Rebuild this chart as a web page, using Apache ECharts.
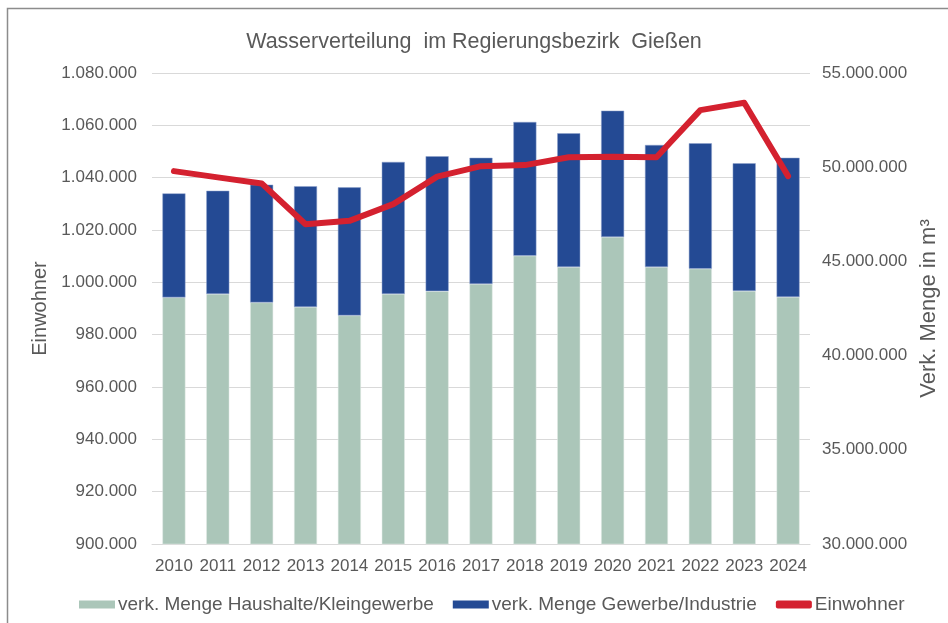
<!DOCTYPE html>
<html>
<head>
<meta charset="utf-8">
<script src="https://cdn.jsdelivr.net/npm/echarts@6/dist/echarts.min.js"></script>
<style>
  html, body { margin: 0; padding: 0; background: #fff; }
  #chart { width: 948px; height: 623px; }
</style>
</head>
<body>
<div id="chart"></div>
<script>
// Daten
const jahre = ['2010', '2011', '2012', '2013', '2014', '2015', '2016', '2017',
  '2018', '2019', '2020', '2021', '2022', '2023', '2024']
const haushalte = [43090000, 43270000, 42820000, 42580000, 42130000, 43270000, 43420000, 43800000,
  45300000, 44700000, 46290000, 44700000, 44610000, 43430000, 43110000]
const gewerbe = [5520000, 5480000, 6250000, 6410000, 6800000, 7010000, 7160000, 6700000,
  7100000, 7100000, 6710000, 6480000, 6660000, 6780000, 7390000]
const einwohner = [1042500, 1040100, 1037800, 1022200, 1023500, 1029900, 1040400, 1044400,
  1044800, 1047800, 1048000, 1047800, 1065800, 1068600, 1040600]

const textColor = '#595959'
const fontFamily = '"Liberation Sans", Arial, sans-serif'

//Tausenderpunkte
function fmt(v) {
  return String(v).replace(/\B(?=(\d{3})+(?!\d))/g, '.')
}

const chart = echarts.init(document.getElementById('chart'))

chart.setOption({
  animation: false,
  textStyle: { fontFamily: fontFamily, color: textColor },
  title: {
    text: 'Wasserverteilung  im Regierungsbezirk  Gießen',
    left: 'center',
    top: 26,
    textStyle: { fontSize: 21.5, fontWeight: 'normal', color: textColor, fontFamily: fontFamily }
  },
  graphic: [{
    type: 'rect',
    shape: { x: 7.5, y: 8.5, width: 960, height: 640 },
    style: { fill: 'none', stroke: '#8c8c8c', lineWidth: 1.5 },
    silent: true
  }],
  grid: { left: 152, right: 137, top: 73, bottom: 79 },
  legend: {
    bottom: 4,
    left: 74,
    itemWidth: 36,
    itemHeight: 8,
    itemGap: 19,
    itemStyle: { borderWidth: 0 },
    textStyle: { fontSize: 19, color: textColor, fontFamily: fontFamily, padding: [0, 0, 0, -2] },
    data: [
      { name: 'verk. Menge Haushalte/Kleingewerbe', icon: 'rect' },
      { name: 'verk. Menge Gewerbe/Industrie', icon: 'rect' },
      { name: 'Einwohner', icon: 'roundRect' }
    ]
  },
  xAxis: {
    type: 'category',
    data: jahre,
    axisLine: { lineStyle: { color: '#d9d9d9', width: 1 } },
    axisTick: { show: false },
    axisLabel: { fontSize: 17, color: textColor, margin: 14, interval: 0 }
  },
  yAxis: [{
    type: 'value',
    name: 'Einwohner',
    nameLocation: 'middle',
    nameGap: 100,
    nameTextStyle: { fontSize: 20, color: textColor },
    min: 900000,
    max: 1080000,
    interval: 20000,
    axisLine: { show: false },
    axisTick: { show: false },
    axisLabel: { fontSize: 17, color: textColor, margin: 15, formatter: fmt },
    splitLine: { lineStyle: { color: '#d9d9d9', width: 1 } }
  }, {
    type: 'value',
    name: 'Verk. Menge in m³',
    nameLocation: 'middle',
    nameGap: 105,
    nameTextStyle: { fontSize: 22, color: textColor },
    min: 30000000,
    max: 55000000,
    interval: 5000000,
    axisLine: { show: false },
    axisTick: { show: false },
    axisLabel: { fontSize: 17, color: textColor, margin: 12, formatter: fmt },
    splitLine: { show: false }
  }],
  series: [{
    name: 'verk. Menge Haushalte/Kleingewerbe',
    type: 'bar',
    stack: 'menge',
    yAxisIndex: 1,
    barWidth: 23,
    data: haushalte,
    itemStyle: { color: '#abc6b9', borderColor: '#e3ebe7', borderWidth: 0.5 }
  }, {
    name: 'verk. Menge Gewerbe/Industrie',
    type: 'bar',
    stack: 'menge',
    yAxisIndex: 1,
    barWidth: 23,
    data: gewerbe,
    itemStyle: { color: '#244a94', borderColor: '#8fa3cc', borderWidth: 0.5 }
  }, {
    name: 'Einwohner',
    type: 'line',
    yAxisIndex: 0,
    data: einwohner,
    symbol: 'none',
    z: 5,
    lineStyle: { color: '#d4212f', width: 6, cap: 'round', join: 'round' },
    itemStyle: { color: '#d4212f' }
  }]
})
</script>
</body>
</html>
